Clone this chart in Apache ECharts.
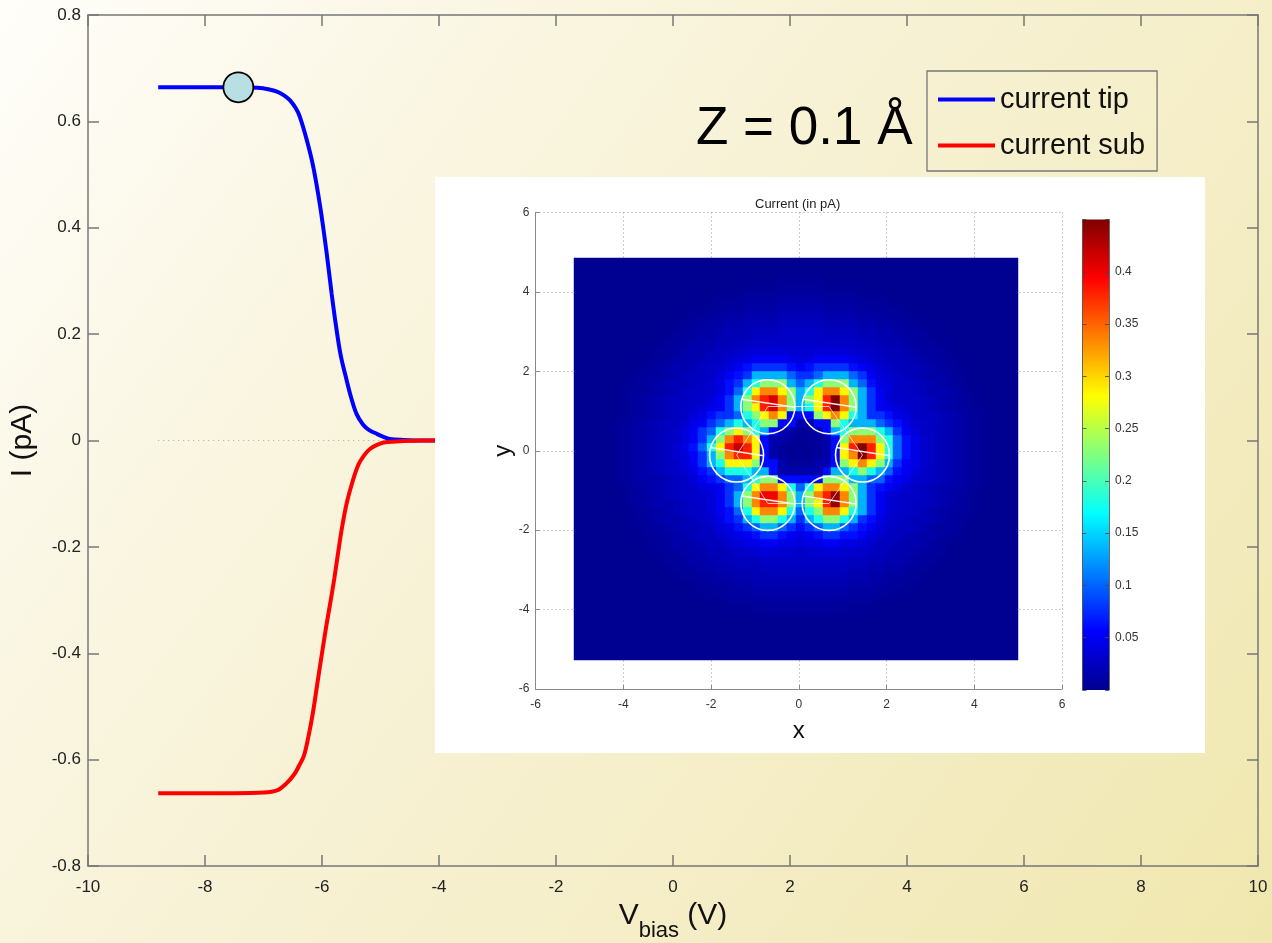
<!DOCTYPE html>
<html><head><meta charset="utf-8">
<script src="https://cdn.jsdelivr.net/npm/echarts@6/dist/echarts.min.js"></script>
<style>html,body{margin:0;padding:0;background:#fff}#c{width:1272px;height:943px}</style>
</head><body><div id="c"></div>
<script>
// ---------- main I-V curves ----------
const vbiasTip   = [-8.8, -7.5, -7.1, -6.9, -6.77, -6.65, -6.55, -6.45, -6.38, -6.26, -6.15, -6.03, -5.92, -5.835, -5.76, -5.68, -5.578, -5.5, -5.41, -5.3, -5.2, -5.065, -4.95, -4.84, -4.6, -4.3, 0, 8];
const currentTip = [0.664, 0.664, 0.663, 0.660, 0.656, 0.649, 0.640, 0.625, 0.609, 0.565, 0.515, 0.439, 0.352, 0.276, 0.215, 0.160, 0.113, 0.080, 0.050, 0.030, 0.020, 0.0126, 0.007, 0.003, 0.001, 0, 0, 0];
const vbiasSub   = [-8.8, -7.5, -7.0, -6.77, -6.62, -6.47, -6.39, -6.31, -6.24, -6.16, -6.07, -6.0, -5.93, -5.85, -5.79, -5.73, -5.66, -5.578, -5.48, -5.38, -5.28, -5.18, -5.03, -4.89, -4.6, -4.3, 0, 8];
const currentSub = [-0.663, -0.663, -0.662, -0.658, -0.646, -0.627, -0.611, -0.593, -0.561, -0.515, -0.450, -0.400, -0.351, -0.300, -0.260, -0.215, -0.165, -0.118, -0.078, -0.046, -0.028, -0.016, -0.007, -0.003, -0.001, 0, 0, 0];
const zeroLine = [[-8.8, 0], [8, 0]];
const markerPoint = [[-7.43, 0.664]];
const legendNames = ['current tip', 'current sub'];

// ---------- inset current map ----------
const hmCols = 50, hmRows = 50;
const hmXRange = [-5.12, 4.99];
const hmYRange = [-5.27, 4.85];
const spotCenters = [[-0.639, 1.235], [0.787, 1.235], [-1.339, 0.062], [1.458, 0.037], [-0.671, -1.197], [0.774, -1.197]];
const spotPeaks = [0.41, 0.45, 0.42, 0.45, 0.40, 0.44];
// value vs distance from a spot centre, in half-cell steps (index 0,1 = peak)
const spotProfile = [null, null, 0.38, 0.335, 0.285, 0.23, 0.18, 0.135, 0.10, 0.078, 0.062, 0.05, 0.043, 0.037, 0.032, 0.028, 0.024];
const hexCentre = [0.062, 0.029];
// background value vs distance from molecule centre, in cells
const haloProfile = [0, 0, 0, 0, 0, 0, 0, 0, 0.032, 0.032, 0.032, 0.032, 0.031, 0.03, 0.028, 0.025, 0.021, 0.017, 0.013, 0.009, 0.006, 0.003, 0.001];
// upper limit near molecule centre, in cells
const innerCap = [0.003, 0.004, 0.006, 0.015, 0.06];
const atomCircles = [[-0.705, 1.109], [0.693, 1.109], [-1.417, -0.108], [1.453, -0.108], [-0.705, -1.325], [0.693, -1.325]];
const bondPairs = [[0, 1], [1, 3], [3, 5], [5, 4], [4, 2], [2, 0]];
const atomSticks = [
  [[-1.30, 1.296], [-0.086, 1.094]],
  [[0.098, 1.296], [1.312, 1.094]],
  [[-2.012, 0.079], [-0.798, -0.123]],
  [[0.858, 0.079], [2.072, -0.123]],
  [[-1.30, -1.138], [-0.086, -1.340]],
  [[0.098, -1.138], [1.312, -1.340]]
];
const colorbarRange = [0, 0.45];
const colorbarTickLabels = ['0.05', '0.1', '0.15', '0.2', '0.25', '0.3', '0.35', '0.4'];

// ---------- build tables ----------
const cw = (hmXRange[1] - hmXRange[0]) / hmCols;
const ch = (hmYRange[1] - hmYRange[0]) / hmRows;
const heatData = [];
for (let i = 0; i < hmCols; i++) {
  for (let j = 0; j < hmRows; j++) {
    const x = hmXRange[0] + (i + 0.5) * cw;
    const y = hmYRange[0] + (j + 0.5) * ch;
    let v = 0;
    spotCenters.forEach((s, k) => {
      const idx = Math.round(2 * Math.hypot((x - s[0]) / cw, (y - s[1]) / ch));
      const sv = idx <= 1 ? spotPeaks[k] : (idx < spotProfile.length ? spotProfile[idx] : 0);
      if (sv > v) v = sv;
    });
    const dc = Math.round(Math.hypot((x - hexCentre[0]) / cw, (y - hexCentre[1]) / ch));
    const hv = haloProfile[Math.min(dc, haloProfile.length - 1)];
    if (hv > v) v = hv;
    if (dc < innerCap.length) v = Math.min(v, innerCap[dc]);
    heatData.push([x, y, v]);
  }
}
const bondData = bondPairs.map(p => ({ coords: [atomCircles[p[0]], atomCircles[p[1]]] }));
const stickData = atomSticks.map(s => ({ coords: s }));

const FF = "'Liberation Sans', Arial, Helvetica, sans-serif";
const jet = ['#00008F', '#0000FF', '#0080FF', '#00FFFF', '#80FF80', '#FFFF00', '#FF8000', '#FF0000', '#800000'];
const jetStops = jet.map((c, i) => ({ offset: i / (jet.length - 1), color: c }));
const AX = '#777777';
const DOT = [1, 3];

const chart = echarts.init(document.getElementById('c'), null, { renderer: 'canvas' });
const option = {
  animation: false,
  backgroundColor: { type: 'linear', x: 0, y: 0, x2: 1, y2: 1,
    colorStops: [{ offset: 0, color: '#fffefa' }, { offset: 0.3, color: '#f9f5df' }, { offset: 0.7, color: '#f4edc5' }, { offset: 1, color: '#f0e7ae' }] },
  textStyle: { fontFamily: FF },
  title: [
    { text: 'Z = 0.1 Å', left: 696, top: 103, padding: 0, z: 6,
      textStyle: { fontSize: 53, fontWeight: 'normal', color: '#000', fontFamily: FF } },
    { text: 'Current (in pA)', left: 755, top: 198, padding: 0, z: 20,
      textStyle: { fontSize: 13, fontWeight: 'normal', color: '#222', fontFamily: FF } }
  ],
  legend: {
    data: legendNames, orient: 'vertical', left: 927, top: 71,
    icon: 'rect', itemWidth: 57, itemHeight: 4, itemGap: 17,
    padding: [14, 12, 11, 11], borderColor: '#777', borderWidth: 1.3,
    backgroundColor: 'rgba(0,0,0,0)', selectedMode: false,
    textStyle: { fontSize: 29, color: '#111', fontFamily: FF }
  },
  graphic: [{ type: 'rect', shape: { x: 435, y: 177, width: 770, height: 576 }, style: { fill: '#ffffff' }, z: 10, silent: true }],
  visualMap: { type: 'continuous', show: false, min: colorbarRange[0], max: colorbarRange[1], dimension: 2, seriesIndex: 4,
    inRange: { color: jet } },
  grid: [
    { left: 88, right: 14, top: 15, bottom: 77, outerBoundsMode: 'none' },
    { left: 535.5, top: 212.5, width: 526.5, height: 476.5, outerBoundsMode: 'none' },
    { left: 1082.5, top: 219.5, width: 26.5, height: 470.5, outerBoundsMode: 'none' }
  ],
  xAxis: [
    { gridIndex: 0, type: 'value', min: -10, max: 10, interval: 2, position: 'bottom',
      axisLine: { onZero: false, lineStyle: { color: AX, width: 1.5 } },
      axisTick: { inside: true, length: 11, lineStyle: { color: AX, width: 1.5 } },
      axisLabel: { fontSize: 17, color: '#222', margin: 13, fontFamily: FF },
      splitLine: { show: false },
      name: '{v|V}{s|bias}{v| (V)}', nameLocation: 'middle', nameGap: 20,
      nameTextStyle: { rich: {
        v: { fontSize: 30, color: '#111', fontFamily: FF },
        s: { fontSize: 22, color: '#111', fontFamily: FF, padding: [30, 0, 0, 0] } } } },
    { gridIndex: 0, type: 'value', min: -10, max: 10, interval: 2, position: 'top',
      axisLine: { onZero: false, lineStyle: { color: AX, width: 1.5 } },
      axisTick: { inside: true, length: 11, lineStyle: { color: AX, width: 1.5 } },
      axisLabel: { show: false }, splitLine: { show: false } },
    { gridIndex: 1, type: 'value', min: -6, max: 6, interval: 2, z: 12,
      axisLine: { onZero: false, lineStyle: { color: '#8a8a8a', width: 1 } },
      axisTick: { inside: true, length: 4, lineStyle: { color: '#8a8a8a' } },
      axisLabel: { fontSize: 12, color: '#333', margin: 10, fontFamily: FF },
      splitLine: { show: true, lineStyle: { color: '#9a9a9a', type: DOT, width: 1 } },
      name: 'x', nameLocation: 'middle', nameGap: 30,
      nameTextStyle: { fontSize: 24, color: '#111', fontFamily: FF } },
    { gridIndex: 2, type: 'value', min: 0, max: 1, show: false }
  ],
  yAxis: [
    { gridIndex: 0, type: 'value', min: -0.8, max: 0.8, interval: 0.2, position: 'left',
      axisLine: { onZero: false, lineStyle: { color: AX, width: 1.5 } },
      axisTick: { inside: true, length: 11, lineStyle: { color: AX, width: 1.5 } },
      axisLabel: { fontSize: 17, color: '#222', margin: 7, fontFamily: FF },
      splitLine: { show: false },
      name: 'I (pA)', nameLocation: 'middle', nameGap: 50,
      nameTextStyle: { fontSize: 30, color: '#111', fontFamily: FF } },
    { gridIndex: 0, type: 'value', min: -0.8, max: 0.8, interval: 0.2, position: 'right',
      axisLine: { onZero: false, lineStyle: { color: AX, width: 1.5 } },
      axisTick: { inside: true, length: 11, lineStyle: { color: AX, width: 1.5 } },
      axisLabel: { show: false }, splitLine: { show: false } },
    { gridIndex: 1, type: 'value', min: -6, max: 6, interval: 2, z: 12,
      axisLine: { onZero: false, lineStyle: { color: '#8a8a8a', width: 1 } },
      axisTick: { inside: true, length: 4, lineStyle: { color: '#8a8a8a' } },
      axisLabel: { fontSize: 12, color: '#333', margin: 6, fontFamily: FF },
      splitLine: { show: true, lineStyle: { color: '#9a9a9a', type: DOT, width: 1 } },
      name: 'y', nameLocation: 'middle', nameGap: 20,
      nameTextStyle: { fontSize: 24, color: '#111', fontFamily: FF } },
    { gridIndex: 2, type: 'value', min: colorbarRange[0], max: colorbarRange[1], interval: 0.05, position: 'left', z: 12,
      axisLine: { onZero: false, lineStyle: { color: '#444', width: 0.8 } },
      axisTick: { inside: true, length: 4, lineStyle: { color: '#444', width: 0.8 } },
      axisLabel: { show: false }, splitLine: { show: false } },
    { gridIndex: 2, type: 'value', min: colorbarRange[0], max: colorbarRange[1], interval: 0.05, position: 'right', z: 12,
      axisLine: { onZero: false, lineStyle: { color: '#444', width: 0.8 } },
      axisTick: { inside: true, length: 4, lineStyle: { color: '#444', width: 0.8 } },
      axisLabel: { fontSize: 12, color: '#333', margin: 6, fontFamily: FF,
        formatter: v => { const s = String(+v.toFixed(2)); return colorbarTickLabels.indexOf(s) >= 0 ? s : ''; } },
      splitLine: { show: false } }
  ],
  series: [
    { name: 'zero', type: 'line', xAxisIndex: 0, yAxisIndex: 0, data: zeroLine, symbol: 'none', silent: true, z: 1,
      lineStyle: { color: '#aaa99c', width: 1, type: [1, 4] } },
    { name: 'current tip', type: 'line', xAxisIndex: 0, yAxisIndex: 0, color: '#0000ff',
      data: vbiasTip.map((v, i) => [v, currentTip[i]]), symbol: 'none', smooth: 0.35, z: 2,
      lineStyle: { color: '#0000ff', width: 4 } },
    { name: 'current sub', type: 'line', xAxisIndex: 0, yAxisIndex: 0, color: '#ff0000',
      data: vbiasSub.map((v, i) => [v, currentSub[i]]), symbol: 'none', smooth: 0.35, z: 2,
      lineStyle: { color: '#ff0000', width: 4 } },
    { name: 'marker', type: 'scatter', xAxisIndex: 0, yAxisIndex: 0, data: markerPoint, symbolSize: 30, silent: true, z: 3,
      itemStyle: { color: '#b8dfe3', borderColor: '#000', borderWidth: 1.8, opacity: 1 } },
    { name: 'current map', type: 'custom', xAxisIndex: 2, yAxisIndex: 2, data: heatData, z: 12, silent: true,
      encode: { x: 0, y: 1 },
      renderItem: (params, api) => {
        const x = api.value(0), y = api.value(1);
        const p0 = api.coord([x - cw / 2, y + ch / 2]);
        const p1 = api.coord([x + cw / 2, y - ch / 2]);
        const x0 = Math.round(p0[0]), y0 = Math.round(p0[1]);
        const x1 = Math.round(p1[0]), y1 = Math.round(p1[1]);
        const col = api.visual('color');
        return { type: 'rect', shape: { x: x0, y: y0, width: x1 - x0, height: y1 - y0 },
          style: { fill: col, stroke: col, lineWidth: 0.5 } };
      } },
    { name: 'bonds', type: 'lines', coordinateSystem: 'cartesian2d', xAxisIndex: 2, yAxisIndex: 2, data: bondData,
      silent: true, z: 13, lineStyle: { color: '#ffffff', width: 1, opacity: 0.7 } },
    { name: 'sticks', type: 'lines', coordinateSystem: 'cartesian2d', xAxisIndex: 2, yAxisIndex: 2, data: stickData,
      silent: true, z: 13, lineStyle: { color: '#ffffff', width: 1.5, opacity: 0.9 } },
    { name: 'atoms', type: 'scatter', xAxisIndex: 2, yAxisIndex: 2, data: atomCircles, symbolSize: 54, silent: true, z: 14,
      itemStyle: { color: 'rgba(0,0,0,0)', borderColor: '#ffffff', borderWidth: 1.6, opacity: 1 } },
    { name: 'colorbar', type: 'custom', xAxisIndex: 3, yAxisIndex: 3, data: [[0, colorbarRange[1]]], z: 11, silent: true,
      renderItem: (params, api) => {
        const p0 = api.coord([0, colorbarRange[1]]);
        const p1 = api.coord([1, colorbarRange[0]]);
        return { type: 'rect', shape: { x: p0[0], y: p0[1], width: p1[0] - p0[0], height: p1[1] - p0[1] },
          style: { fill: new echarts.graphic.LinearGradient(0, 1, 0, 0, jetStops) } };
      } }
  ]
};
chart.setOption(option);
</script></body></html>
